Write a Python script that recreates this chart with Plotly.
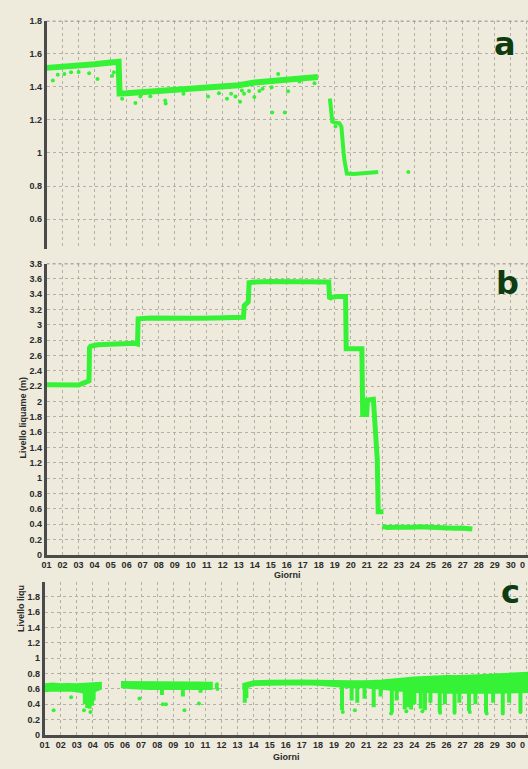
import plotly.graph_objects as go

# ---------------- data ----------------
day_ticks = list(range(1, 32))
day_labels = ["01", "02", "03", "04", "05", "06", "07", "08", "09", "10",
              "11", "12", "13", "14", "15", "16", "17", "18", "19", "20",
              "21", "22", "23", "24", "25", "26", "27", "28", "29", "30", "01"]
edge_label = "0"   # visible part of the next month's "01" at the right edge

# panel a : main band
a_band_x = [1.0, 2.0, 3.0, 4.0, 5.0, 5.5, 5.53, 5.56, 6.0, 7.0, 8.0, 9.0, 10.0,
            11.0, 12.0, 13.0, 14.0, 15.0, 16.0, 17.0, 17.95]
a_band_y = [1.515, 1.52, 1.53, 1.537, 1.548, 1.552, 1.45, 1.36, 1.362, 1.368, 1.375,
            1.382, 1.388, 1.394, 1.40, 1.41, 1.427, 1.437, 1.446, 1.453, 1.46]
# panel a : falling part
a_drop_x = [18.7, 18.74, 18.8, 18.85, 19.0, 19.15, 19.3, 19.42, 19.45, 19.5, 19.56,
            19.62, 19.7, 19.76, 20.2, 20.7, 21.2, 21.72]
a_drop_y = [1.33, 1.27, 1.21, 1.19, 1.185, 1.18, 1.18, 1.16, 1.10, 1.04, 1.0,
            0.95, 0.90, 0.875, 0.872, 0.875, 0.878, 0.885]
# panel a : scattered points
a_pts_x = [1.39, 1.70, 2.11, 2.53, 3.0, 3.66, 4.18, 5.1, 5.2, 5.72, 6.55, 6.86, 7.48,
           8.41, 8.44, 9.55, 11.09, 11.77, 12.27, 12.53, 12.8, 13.09, 13.2, 13.34,
           13.65, 13.98, 14.3, 14.5, 15.06, 15.1, 15.47, 15.88, 16.09, 16.8, 17.74,
           19.05, 23.6]
a_pts_y = [1.438, 1.474, 1.478, 1.488, 1.49, 1.482, 1.448, 1.467, 1.488, 1.328, 1.303,
           1.342, 1.344, 1.318, 1.30, 1.358, 1.342, 1.362, 1.328, 1.358, 1.342, 1.31,
           1.378, 1.358, 1.375, 1.338, 1.375, 1.388, 1.398, 1.245, 1.478, 1.245,
           1.374, 1.432, 1.422, 1.16, 0.885]

# panel b : level steps
b_x = [1.0, 2.0, 3.0, 3.3, 3.6, 3.65, 3.68, 3.75, 4.2, 5.0, 5.8, 6.5, 6.68, 6.72,
       7.5, 8.5, 9.5, 10.5, 11.5, 12.5, 13.3, 13.35, 13.5, 13.6, 13.65, 14.0, 15.0,
       16.0, 17.0, 18.0, 18.63, 18.68, 18.8, 19.2, 19.68, 19.72, 20.2, 20.7, 20.75,
       21.0, 21.05, 21.42, 21.55, 21.66, 21.72, 22.05]
b_y = [2.22, 2.22, 2.215, 2.24, 2.26, 2.27, 2.70, 2.72, 2.74, 2.75, 2.76, 2.76, 2.75,
       3.08, 3.09, 3.085, 3.09, 3.085, 3.09, 3.09, 3.10, 3.25, 3.27, 3.30, 3.55, 3.56,
       3.565, 3.56, 3.56, 3.555, 3.56, 3.34, 3.36, 3.37, 3.37, 2.69, 2.69, 2.69, 1.83,
       1.83, 2.02, 2.03, 1.60, 1.25, 0.56, 0.56]
b_tail_x = [21.97, 22.3, 22.8, 23.3, 23.8, 24.3, 24.8, 25.3, 25.8, 26.1, 26.5, 26.9,
            27.3, 27.6]
b_tail_y = [0.37, 0.355, 0.36, 0.355, 0.36, 0.365, 0.36, 0.36, 0.355, 0.34, 0.345,
            0.35, 0.34, 0.335]

# panel c : bands (upper and lower edges)
c1_x = [1.0, 1.5, 2.0, 2.5, 3.0, 3.5, 4.0, 4.5]
c1_top = [0.66, 0.67, 0.66, 0.665, 0.66, 0.67, 0.675, 0.68]
c1_bot = [0.57, 0.58, 0.575, 0.58, 0.57, 0.55, 0.56, 0.60]
c2_x = [5.75, 6.5, 7.5, 8.5, 9.5, 10.5, 11.4]
c2_top = [0.69, 0.69, 0.685, 0.685, 0.69, 0.685, 0.68]
c2_bot = [0.62, 0.61, 0.60, 0.60, 0.60, 0.60, 0.60]
c3_x = [13.3, 14.0, 15.0, 16.0, 17.0, 18.0, 19.0, 20.0, 21.0, 22.0, 23.0, 24.0,
        25.0, 26.0, 27.0, 28.0, 29.0, 30.0, 31.07]
c3_top = [0.66, 0.70, 0.705, 0.71, 0.71, 0.705, 0.70, 0.70, 0.70, 0.71, 0.73, 0.75,
          0.76, 0.77, 0.77, 0.78, 0.79, 0.80, 0.81]
c3_bot = [0.60, 0.65, 0.655, 0.66, 0.66, 0.655, 0.64, 0.62, 0.62, 0.60, 0.58, 0.56,
          0.56, 0.55, 0.55, 0.55, 0.55, 0.55, 0.56]
# panel c : downward spikes
c_spk_x = [3.5, 3.65, 3.8, 3.95, 4.05, 8.3, 9.6, 10.7, 13.45, 13.55, 19.5, 20.1,
           20.45, 20.9, 21.47, 21.9, 22.6, 22.9, 23.4, 23.6, 23.8, 24.0, 24.4, 24.66,
           25.0, 25.58, 25.9, 26.5, 26.8, 27.4, 27.8, 28.46, 28.9, 29.5, 29.9, 30.6]
c_spk_lo = [0.40, 0.35, 0.34, 0.38, 0.45, 0.52, 0.50, 0.55, 0.42, 0.48, 0.32, 0.45,
            0.42, 0.47, 0.36, 0.50, 0.29, 0.45, 0.33, 0.36, 0.33, 0.40, 0.34, 0.32,
            0.42, 0.30, 0.40, 0.30, 0.42, 0.31, 0.40, 0.29, 0.42, 0.29, 0.42, 0.31]
c_spk_hi = [0.60, 0.60, 0.60, 0.60, 0.60, 0.62, 0.62, 0.62, 0.64, 0.64, 0.66, 0.64,
            0.64, 0.64, 0.64, 0.62, 0.62, 0.60, 0.60, 0.60, 0.60, 0.58, 0.58, 0.58,
            0.58, 0.58, 0.58, 0.57, 0.57, 0.57, 0.57, 0.57, 0.57, 0.57, 0.57, 0.57]
# panel c : isolated points
c_pts_x = [1.56, 2.65, 3.45, 3.85, 6.9, 8.35, 8.55, 9.7, 10.6, 11.7, 11.72, 11.75,
           19.55, 20.3, 22.55, 23.5, 24.5, 25.6, 26.5, 27.45, 28.5, 29.5, 30.6]
c_pts_y = [0.32, 0.49, 0.32, 0.30, 0.475, 0.40, 0.40, 0.32, 0.41, 0.63, 0.66, 0.60,
           0.30, 0.32, 0.28, 0.31, 0.31, 0.29, 0.29, 0.30, 0.28, 0.28, 0.30]

# ---------------- style ----------------
W, H = 528, 769
GREEN = "#36f236"
BG = "#eeebdd"
GRID = "#b3b0a5"
AXC = "#4a4a4a"
TXT = "#2a2a2a"
TICKFONT = dict(family="Liberation Sans", size=9, color=TXT, weight="bold")


def fx(px):
    return px / W


def fy(py):
    return 1 - py / H


fig = go.Figure()

# panel a
fig.add_trace(go.Scatter(x=a_band_x, y=a_band_y, mode="lines",
                         line=dict(color=GREEN, width=6), xaxis="x", yaxis="y"))
fig.add_trace(go.Scatter(x=a_drop_x, y=a_drop_y, mode="lines",
                         line=dict(color=GREEN, width=4), xaxis="x", yaxis="y"))
fig.add_trace(go.Scatter(x=a_pts_x, y=a_pts_y, mode="markers",
                         marker=dict(color=GREEN, size=4), xaxis="x", yaxis="y"))

# panel b
fig.add_trace(go.Scatter(x=b_x, y=b_y, mode="lines",
                         line=dict(color=GREEN, width=5), xaxis="x2", yaxis="y2"))
fig.add_trace(go.Scatter(x=b_tail_x, y=b_tail_y, mode="lines",
                         line=dict(color=GREEN, width=5), xaxis="x2", yaxis="y2"))

# panel c bands
for bx, bt, bb in [(c1_x, c1_top, c1_bot), (c2_x, c2_top, c2_bot), (c3_x, c3_top, c3_bot)]:
    fig.add_trace(go.Scatter(x=bx + bx[::-1], y=bt + bb[::-1], mode="lines",
                             fill="toself", fillcolor=GREEN,
                             line=dict(color=GREEN, width=2), xaxis="x3", yaxis="y3"))
spx, spy = [], []
for sx, lo, hi in zip(c_spk_x, c_spk_lo, c_spk_hi):
    spx += [sx, sx, None]
    spy += [hi, lo, None]
fig.add_trace(go.Scatter(x=spx, y=spy, mode="lines",
                         line=dict(color=GREEN, width=4), xaxis="x3", yaxis="y3"))
fig.add_trace(go.Scatter(x=c_pts_x, y=c_pts_y, mode="markers",
                         marker=dict(color=GREEN, size=4), xaxis="x3", yaxis="y3"))

xcommon = dict(tickmode="array", tickvals=day_ticks, ticktext=day_labels,
               showgrid=True, gridcolor=GRID, griddash="dot", gridwidth=1,
               zeroline=False, ticks="", tickfont=TICKFONT)
ycommon = dict(tick0=0, dtick=0.2, showgrid=True, gridcolor=GRID, griddash="dot",
               gridwidth=1, zeroline=False, ticks="", tickfont=TICKFONT,
               showline=True, linecolor=AXC, linewidth=2.5)

fig.update_layout(
    width=W, height=H, showlegend=False,
    paper_bgcolor=BG, plot_bgcolor=BG,
    margin=dict(l=0, r=0, t=0, b=0),
    xaxis=dict(xcommon, domain=[fx(42), 1], range=[1, 31.08], anchor="y",
               showticklabels=False, showline=False),
    yaxis=dict(ycommon, domain=[fy(247), fy(16)], range=[0.42, 1.8], anchor="x"),
    xaxis2=dict(xcommon, domain=[fx(42), 1], range=[1, 31.08], anchor="y2",
                showline=True, linecolor=AXC, linewidth=2.5),
    yaxis2=dict(ycommon, domain=[fy(557), fy(262)], range=[0, 3.8], anchor="x2"),
    xaxis3=dict(xcommon, domain=[fx(40), 1], range=[1, 31.07], anchor="y3",
                showline=True, linecolor=AXC, linewidth=2.5),
    yaxis3=dict(ycommon, domain=[fy(739.5), fy(585)], range=[0, 1.99], anchor="x3"),
)

# dotted frame tops
fig.add_shape(type="line", xref="x", yref="y", x0=1, x1=31.08, y0=1.8, y1=1.8,
              line=dict(color="#6a6a66", width=1.5, dash="dot"))
fig.add_shape(type="line", xref="x2", yref="y2", x0=1, x1=31.08, y0=3.8, y1=3.8,
              line=dict(color="#6a6a66", width=1.5, dash="dot"))

LET = dict(family="DejaVu Sans", size=32, color="#0e3b10", weight="bold")
AX = dict(family="Liberation Sans", size=9, color=TXT, weight="bold")
ann = [
    dict(text="a", x=fx(505), y=fy(40), font=LET),
    dict(text="b", x=fx(507), y=fy(282), font=LET),
    dict(text="c", x=fx(510), y=fy(595), font=LET),
    dict(text="Giorni", x=fx(285), y=fy(578), font=AX),
    dict(text="Giorni", x=fx(284), y=fy(762), font=AX),
    dict(text="Livello liquame (m)", x=fx(18), y=fy(418), font=AX, textangle=-90),
    dict(text="Livello liqu", x=fx(16), y=fy(611), font=AX, textangle=-90),
]
for a in ann:
    fig.add_annotation(xref="paper", yref="paper", showarrow=False,
                       xanchor="center", yanchor="middle", **a)
# the next month's first label, of which only "0" fits at the right edge
for yy in (567, 750):
    fig.add_annotation(xref="paper", yref="paper", x=1, y=fy(yy), text=edge_label,
                       showarrow=False, xanchor="right", yanchor="middle",
                       xshift=-1, font=TICKFONT)

fig.write_html("out.html",
               config={"displayModeBar": False},
               post_script="document.body.style.margin='0px';"
                           "document.body.style.overflow='hidden';")
